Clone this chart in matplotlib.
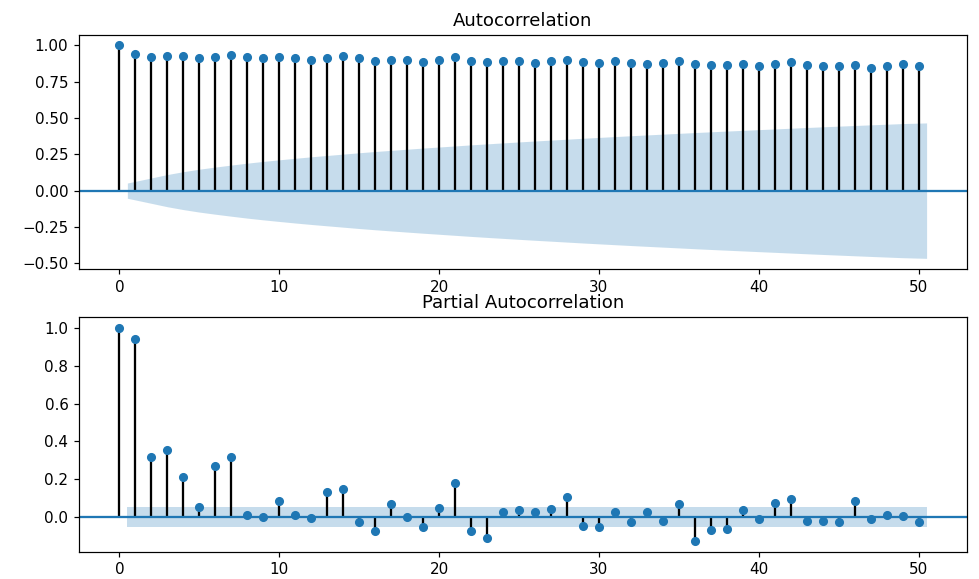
import numpy as np
import matplotlib
matplotlib.use("Agg")
import matplotlib.pyplot as plt

# lags 0..50, values
lags = np.arange(51)

acf_vals = [1.000, 0.943, 0.920, 0.930, 0.930, 0.911, 0.920, 0.936, 0.920, 0.911,
            0.920, 0.911, 0.902, 0.911, 0.930, 0.911, 0.895, 0.902, 0.902, 0.886,
            0.902, 0.920, 0.895, 0.886, 0.895, 0.895, 0.879, 0.895, 0.902, 0.886,
            0.880, 0.889, 0.880, 0.873, 0.880, 0.893, 0.870, 0.864, 0.864, 0.870,
            0.857, 0.873, 0.886, 0.864, 0.857, 0.857, 0.864, 0.845, 0.855, 0.873,
            0.857]

pacf_vals = [1.000, 0.944, 0.319, 0.356, 0.211, 0.055, 0.269, 0.319, 0.012, -0.002,
             0.086, 0.012, -0.007, 0.130, 0.148, -0.025, -0.076, 0.067, 0.000, -0.051,
             0.048, 0.181, -0.076, -0.109, 0.025, 0.037, 0.029, 0.042, 0.104, -0.046,
             -0.053, 0.025, -0.025, 0.025, -0.019, 0.067, -0.127, -0.069, -0.063, 0.035,
             -0.012, 0.074, 0.098, -0.019, -0.019, -0.025, 0.084, -0.012, 0.011, 0.005,
             -0.025]

nobs = 1400
z95 = 1.96


def acf_band(acf, n):
    # Bartlett's formula, as statsmodels' plot_acf does
    acf = np.asarray(acf)
    var = np.ones(len(acf)) / n
    var[0] = 0
    var[2:] *= 1 + 2 * np.cumsum(acf[1:-1] ** 2)
    return z95 * np.sqrt(var)


def pacf_band(pacf, n):
    return np.full(len(pacf), z95 / np.sqrt(n))


def plot_corr(ax, title, vals, half):
    vals = np.asarray(vals)
    ax.vlines(lags, [0], vals, colors="k", lw=1.5)
    ax.axhline(0, color="C0", lw=1.5)
    ax.margins(0.05)
    ax.plot(lags, vals, marker="o", markersize=5, linestyle="None", color="C0")
    ax.set_title(title)
    fl = lags[1:].astype(float)
    fl[0] -= 0.5
    fl[-1] += 0.5
    ax.fill_between(fl, -half[1:], half[1:], alpha=0.25, color="C0", lw=0)


fig = plt.figure(figsize=(979 / 109, 579 / 109), dpi=109)
ax1 = fig.add_axes([0.0807, 0.5354, 0.907, 0.4047])
ax2 = fig.add_axes([0.0807, 0.0471, 0.907, 0.4049])

plot_corr(ax1, "Autocorrelation", acf_vals, acf_band(acf_vals, nobs))
plot_corr(ax2, "Partial Autocorrelation", pacf_vals, pacf_band(pacf_vals, nobs))

fig.savefig("out.png", dpi=109)
